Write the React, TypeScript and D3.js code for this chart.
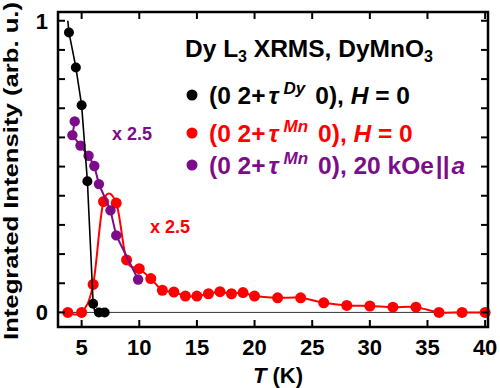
import React, { useEffect, useRef } from "react";
import * as d3 from "d3";

// Dy order, H = 0 (black)
const dyTemp = [3.9, 4.5, 5.0, 5.5, 6.0, 6.5, 7.0];
const dyInt = [0.96, 0.84, 0.71, 0.45, 0.03, 0, 0];
// guide line drawn through the Dy points
const dyFitTemp = [3.8, 3.9, 4.5, 5.0, 5.5, 6.0, 6.15];
const dyFitInt = [1.0, 0.96, 0.84, 0.71, 0.45, 0.03, 0];

// Mn order, H = 0 (red, x 2.5)
const mnTemp = [3.8, 5.0, 6.0, 6.9, 8.0, 8.9, 10, 11, 12, 13, 14, 15, 16, 17, 18, 19, 20, 22, 24, 26, 28, 30, 32, 34, 36, 38, 40];
const mnInt = [0, 0, 0.096, 0.38, 0.375, 0.18, 0.15, 0.116, 0.076, 0.07, 0.056, 0.056, 0.064, 0.071, 0.064, 0.068, 0.056, 0.05, 0.05, 0.033, 0.024, 0.022, 0.018, 0.018, 0, 0, 0];

// Mn order, 20 kOe || a (purple, x 2.5)
const mnFieldTemp = [4.4, 4.2, 4.9, 5.6, 6.1, 6.5, 7.5, 8.0, 9.9];
const mnFieldInt = [0.655, 0.608, 0.572, 0.537, 0.502, 0.44, 0.35, 0.264, 0.113];

const xTicks = [5, 10, 15, 20, 25, 30, 35, 40];
const yTicks = [0, 0.1, 0.2, 0.3, 0.4, 0.5, 0.6, 0.7, 0.8, 0.9, 1.0];
const yLabels = [0, 1];

const RED = "#ff0000";
const PURPLE = "#7d0c8a";
const FONT = "'Liberation Sans', Arial, sans-serif";

const App = () => {
  const svgRef = useRef<SVGSVGElement>(null);
  const width = 500;
  const height = 388;
  const frame = { left: 58, right: 488, top: 12, bottom: 327 };

  useEffect(() => {
    const svg = d3.select(svgRef.current);
    svg.selectAll("*").remove();

    const x = d3.scaleLinear().domain([2.95, 40.25]).range([frame.left, frame.right]);
    const y = d3.scaleLinear().domain([-0.05, 1.03]).range([frame.bottom, frame.top]);

    const zip = (ts: number[], vs: number[]) => ts.map((t, i) => ({ t, v: vs[i] }));
    const dyPts = zip(dyTemp, dyInt);
    const dyFit = zip(dyFitTemp, dyFitInt);
    const mnPts = zip(mnTemp, mnInt);
    const mnFieldPts = zip(mnFieldTemp, mnFieldInt);

    const g = svg.append("g").attr("font-family", FONT).attr("font-weight", "bold");

    // zero line
    g.append("line")
      .attr("x1", frame.left)
      .attr("x2", frame.right)
      .attr("y1", y(0))
      .attr("y2", y(0))
      .attr("stroke", "#000")
      .attr("stroke-width", 0.8);

    const line = d3
      .line<{ t: number; v: number }>()
      .x((d) => x(d.t))
      .y((d) => y(d.v));

    // red
    g.append("path")
      .datum(mnPts)
      .attr("d", line.curve(d3.curveCatmullRom.alpha(0)))
      .attr("fill", "none")
      .attr("stroke", RED)
      .attr("stroke-width", 2);
    g.selectAll(".mn")
      .data(mnPts)
      .enter()
      .append("circle")
      .attr("cx", (d) => x(d.t))
      .attr("cy", (d) => y(d.v))
      .attr("r", 5.5)
      .attr("fill", RED);

    // purple
    g.append("path")
      .datum(mnFieldPts)
      .attr("d", line.curve(d3.curveLinear))
      .attr("fill", "none")
      .attr("stroke", PURPLE)
      .attr("stroke-width", 2);
    g.selectAll(".mnf")
      .data(mnFieldPts)
      .enter()
      .append("circle")
      .attr("cx", (d) => x(d.t))
      .attr("cy", (d) => y(d.v))
      .attr("r", 5.2)
      .attr("fill", PURPLE);

    // black
    g.append("path")
      .datum(dyFit)
      .attr("d", line.curve(d3.curveLinear))
      .attr("fill", "none")
      .attr("stroke", "#000")
      .attr("stroke-width", 1.6);
    g.selectAll(".dy")
      .data(dyPts)
      .enter()
      .append("circle")
      .attr("cx", (d) => x(d.t))
      .attr("cy", (d) => y(d.v))
      .attr("r", 5)
      .attr("fill", "#000");

    // frame
    g.append("rect")
      .attr("x", frame.left)
      .attr("y", frame.top)
      .attr("width", frame.right - frame.left)
      .attr("height", frame.bottom - frame.top)
      .attr("fill", "none")
      .attr("stroke", "#000")
      .attr("stroke-width", 2.5);

    // ticks (inward, mirrored)
    const tick = 7;
    xTicks.forEach((t) => {
      g.append("line").attr("x1", x(t)).attr("x2", x(t)).attr("y1", frame.bottom).attr("y2", frame.bottom - tick).attr("stroke", "#000").attr("stroke-width", 2);
      g.append("line").attr("x1", x(t)).attr("x2", x(t)).attr("y1", frame.top).attr("y2", frame.top + tick).attr("stroke", "#000").attr("stroke-width", 2);
    });
    yTicks.forEach((v) => {
      g.append("line").attr("x1", frame.left).attr("x2", frame.left + tick).attr("y1", y(v)).attr("y2", y(v)).attr("stroke", "#000").attr("stroke-width", 2);
      g.append("line").attr("x1", frame.right).attr("x2", frame.right - tick).attr("y1", y(v)).attr("y2", y(v)).attr("stroke", "#000").attr("stroke-width", 2);
    });

    g.selectAll(".xl")
      .data(xTicks)
      .enter()
      .append("text")
      .attr("x", (d) => x(d))
      .attr("y", 355)
      .attr("text-anchor", "middle")
      .attr("font-size", 22)
      .text((d) => d);

    g.selectAll(".yl")
      .data(yLabels)
      .enter()
      .append("text")
      .attr("x", 48)
      .attr("y", (d) => y(d) + 8)
      .attr("text-anchor", "end")
      .attr("font-size", 22)
      .text((d) => d);

    // axis titles
    const xt = g.append("text").attr("x", 278).attr("y", 383).attr("text-anchor", "middle").attr("font-size", 22);
    xt.append("tspan").attr("font-style", "italic").text("T");
    xt.append("tspan").text(" (K)");

    g.append("text")
      .attr("transform", `translate(18,171) rotate(-90)`)
      .attr("text-anchor", "middle")
      .attr("font-size", 20)
      .attr("textLength", 338)
      .attr("lengthAdjust", "spacingAndGlyphs")
      .text("Integrated Intensity (arb. u.)");

    // scale factors
    g.append("text").attr("x", 112).attr("y", 140).attr("font-size", 18).attr("fill", PURPLE).text("x 2.5");
    g.append("text").attr("x", 150).attr("y", 233).attr("font-size", 18).attr("fill", RED).text("x 2.5");

    // legend title
    const fs = 24.5;
    const title = g.append("text").attr("x", 185).attr("y", 57).attr("font-size", fs);
    title.append("tspan").text("Dy L");
    title.append("tspan").attr("font-size", 16).attr("dy", 5).text("3");
    title.append("tspan").attr("dy", -5).text(" XRMS, DyMnO");
    title.append("tspan").attr("font-size", 16).attr("dy", 5).text("3");

    const rows = [
      { color: "#000", sup: "Dy", tail: [["0), ", ""], ["H", "italic"], [" = 0", ""]], yb: 104 },
      { color: RED, sup: "Mn", tail: [["0), ", ""], ["H", "italic"], [" = 0", ""]], yb: 142 },
      { color: PURPLE, sup: "Mn", tail: [["0), 20 kOe", ""], ["||", ""], ["a", "italic"]], yb: 174 },
    ];
    rows.forEach((r) => {
      g.append("circle").attr("cx", 192).attr("cy", r.yb - 9).attr("r", 5.5).attr("fill", r.color);
      const t = g.append("text").attr("x", 209).attr("y", r.yb).attr("font-size", fs).attr("fill", r.color);
      t.append("tspan").text("(0 2+");
      t.append("tspan").attr("font-style", "italic").attr("dx", 3).text("τ");
      t.append("tspan").attr("font-size", 17).attr("font-style", "italic").attr("dy", -10).attr("dx", 5).text(r.sup);
      t.append("tspan").attr("dy", 10).attr("dx", 10).text(r.tail[0][0]);
      r.tail.slice(1).forEach(([s, st]) => {
        const sp = t.append("tspan").text(s);
        if (st) sp.attr("font-style", st);
        if (s === "||" || s === "a") sp.attr("dx", 2);
      });
    });
  }, []);

  return (
    <svg
      ref={svgRef}
      width={width}
      height={height}
      style={{ position: "absolute", left: 0, top: 0, background: "#fff" }}
    ></svg>
  );
};

export default App;
